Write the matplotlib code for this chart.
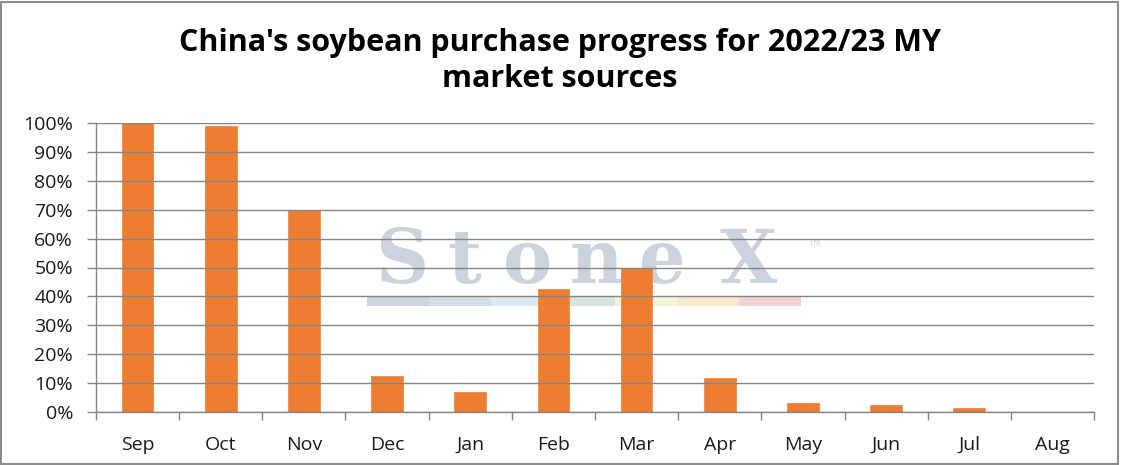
import matplotlib
matplotlib.use("Agg")
import matplotlib.pyplot as plt
from matplotlib.patches import Rectangle
import numpy as np

months = ["Sep", "Oct", "Nov", "Dec", "Jan", "Feb", "Mar", "Apr", "May", "Jun", "Jul", "Aug"]
progress = [1.00, 0.99, 0.70, 0.126, 0.07, 0.427, 0.50, 0.119, 0.032, 0.025, 0.015, 0.0]
y_ticks = [0.0, 0.1, 0.2, 0.3, 0.4, 0.5, 0.6, 0.7, 0.8, 0.9, 1.0]
y_tick_labels = ["0%", "10%", "20%", "30%", "40%", "50%", "60%", "70%", "80%", "90%", "100%"]
title = "China's soybean purchase progress for 2022/23 MY\nmarket sources"
watermark_letters = ["S", "t", "o", "n", "e", "X"]
band_colors = ["#cdd4de", "#d3dde8", "#dde9f2", "#d6e4dc", "#f4f4d9", "#f9e7cf", "#f0d3d5"]

W, H = 1122, 465
fig = plt.figure(figsize=(W / 100, H / 100), dpi=100)
fig.patch.set_facecolor("white")

ax_l, ax_r, ax_b, ax_t = 96, 1094, 412, 123
ax = fig.add_axes([ax_l / W, (H - ax_b) / H, (ax_r - ax_l) / W, (ax_b - ax_t) / H])
ax.set_facecolor("none")

x = np.arange(len(months))
ax.set_xlim(-0.5, len(months) - 0.5)
ax.set_ylim(0, 1.0)

# watermark (behind grid and bars)
wm_color = "#cbd3dc"
letter_px = [402, 464, 528, 596, 662, 748]
for ch, px in zip(watermark_letters, letter_px):
    ax.text((px - ax_l) / (ax_r - ax_l), (ax_b - 283) / (ax_b - ax_t), ch,
            transform=ax.transAxes, ha="center", va="baseline",
            fontsize=53, family="DejaVu Serif", fontweight="bold", color=wm_color, zorder=0)
ax.text((814 - ax_l) / (ax_r - ax_l), (ax_b - 243) / (ax_b - ax_t), "TM",
        transform=ax.transAxes, ha="center", va="center",
        fontsize=6, family="DejaVu Sans", color=wm_color, zorder=0)
seg_w = 62 / (ax_r - ax_l)
x0 = (367 - ax_l) / (ax_r - ax_l)
yb = (ax_b - 306) / (ax_b - ax_t)
hb = 9 / (ax_b - ax_t)
for i, c in enumerate(band_colors):
    ax.add_patch(Rectangle((x0 + i * seg_w, yb), seg_w, hb, transform=ax.transAxes,
                           facecolor=c, edgecolor="none", zorder=0))

# grid
ax.set_yticks(y_ticks)
ax.set_yticklabels(y_tick_labels)
ax.yaxis.grid(True, color="#868686", linewidth=1.0, zorder=1)
ax.set_axisbelow(False)
for gl in ax.get_ygridlines():
    gl.set_zorder(1)

ax.bar(x, progress, width=0.38, color="#ED7D31", edgecolor="#F08A45", linewidth=0.6, zorder=2)

ax.set_xticks(x)
ax.set_xticklabels(months)
ax.set_xticks(np.arange(-0.5, len(months), 1.0), minor=True)
ax.tick_params(axis="x", which="major", length=0, pad=17, labelsize=14, colors="#1a1a1a")
ax.tick_params(axis="x", which="minor", length=6, width=1.0, color="#868686", direction="out")
ax.tick_params(axis="y", length=6.5, width=1.0, color="#868686", pad=10, labelsize=14,
               labelcolor="#1a1a1a", direction="out")
for lab in ax.get_xticklabels() + ax.get_yticklabels():
    lab.set_family("Open Sans")

for s in ["top", "right"]:
    ax.spines[s].set_visible(False)
for s in ["left", "bottom"]:
    ax.spines[s].set_color("#868686")
    ax.spines[s].set_linewidth(1.0)
    ax.spines[s].set_zorder(3)

fig.text(560 / W, 1 - 61 / H, title, ha="center", va="center", fontsize=22,
         fontweight="bold", family="Open Sans", color="black", linespacing=1.3)

# outer border
fig.add_artist(Rectangle((1 / W, 1 / H), (W - 5) / W, (H - 3) / H, transform=fig.transFigure,
                         facecolor="none", edgecolor="#8c8c8c", linewidth=1.5))

fig.savefig("out.png", dpi=100)
